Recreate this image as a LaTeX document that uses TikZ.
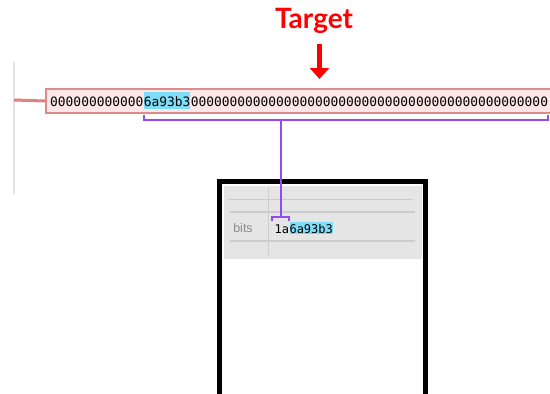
\documentclass[tikz,border=0pt]{standalone}
\usepackage{fontspec}
\newfontfamily\monof{DejaVu Sans Mono}
\newfontfamily\titlef{Lato}
\newfontfamily\labelf{Liberation Sans}
\usetikzlibrary{arrows.meta}
\definecolor{hlcyan}{HTML}{7FDDF8}
\definecolor{pinkfill}{HTML}{FDE6E6}
\definecolor{pinkedge}{HTML}{DC8A8A}
\definecolor{redline}{HTML}{E08080}
\definecolor{guidegray}{HTML}{E3E3E3}
\definecolor{purp}{RGB}{145,75,240}
\definecolor{panelgray}{HTML}{E5E5E5}
\definecolor{panelline}{HTML}{CCCCCC}
\definecolor{labelgray}{HTML}{8A8A8A}
\tikzset{
  hexbig/.style={inner sep=0pt, anchor=base west, font=\monof\fontsize{12.9}{14}\selectfont},
  hexsmall/.style={inner sep=0pt, anchor=base west, font=\monof\fontsize{12}{14}\selectfont},
  hlbig/.style={hexbig, fill=hlcyan, text height=15pt, text depth=2.5pt},
  hlsmall/.style={hexsmall, fill=hlcyan, text height=11pt, text depth=0.5pt},
  purpline/.style={draw=purp, line width=2pt},
  gridline/.style={draw=panelline, line width=1.2pt},
}
\begin{document}
\begin{tikzpicture}[x=1pt,y=-1pt]
\useasboundingbox (0,0) rectangle (550,394);
\fill[white] (0,0) rectangle (550,394);
% guide line on the left
\coordinate (g1) at (14,62);
\coordinate (g2) at (14,194);
\draw[guidegray, line width=2.5pt] (g1) -- (g2);
% hash box
\node[draw=pinkedge, fill=pinkfill, line width=2pt, minimum width=515pt, minimum height=24pt, inner sep=0pt, anchor=north west] (hashbox) at (45,88) {};
\coordinate (lft) at (14,100);
\draw[redline, line width=3pt] (lft) -- (hashbox.west);
\node[hexbig] (pre) at (50,106.5) {000000000000};
\node[hlbig] (hl) at (pre.base east) {6a93b3};
\node[hexbig] (post) at (hl.base east) {0000000000000000000000000000000000000000000000};
% Target label and arrow
\node[font=\titlef\bfseries\fontsize{28}{30}\selectfont, text=red, inner sep=0pt] (target) at (314,21) {Target};
\coordinate (atop) at (319.5,44);
\coordinate (abot) at (319.5,79);
\draw[red, line width=4.5pt, -{Triangle[width=19pt,length=11pt]}] (atop) -- (abot);
% long bracket
\coordinate (lb1) at (143.5,115);
\coordinate (lb2) at (143.5,120);
\coordinate (lb3) at (547.5,120);
\coordinate (lb4) at (547.5,115);
\draw[purpline] (lb1) -- (lb2) -- (lb3) -- (lb4);
% panel box
\draw[line width=4.5pt] (219.5,181.5) rectangle (425.5,420);
\fill[panelgray] (224,186) rectangle (422,259);
\draw[gridline] (228,199.5) -- (413,199.5);
\draw[gridline] (230,212) -- (415,212);
\draw[gridline] (230,241) -- (415,241);
\draw[gridline] (268.5,188) -- (268.5,255);
\node[font=\labelf\fontsize{12.5}{14}\selectfont, text=labelgray, inner sep=0pt] (bits) at (243,228.5) {bits};
\node[hexsmall] (s1) at (274.5,233) {1a};
\node[hlsmall] (s2) at (s1.base east) {6a93b3};
% small bracket
\coordinate (sb1) at (272,220.5);
\coordinate (sb2) at (272,217);
\coordinate (sb3) at (289,217);
\coordinate (sb4) at (289,220.5);
\draw[purpline] (sb1) -- (sb2) -- (sb3) -- (sb4);
% connector
\coordinate (c1) at (280.5,120);
\coordinate (c2) at (280.5,217);
\draw[purpline] (c1) -- (c2);
\end{tikzpicture}
\end{document}
